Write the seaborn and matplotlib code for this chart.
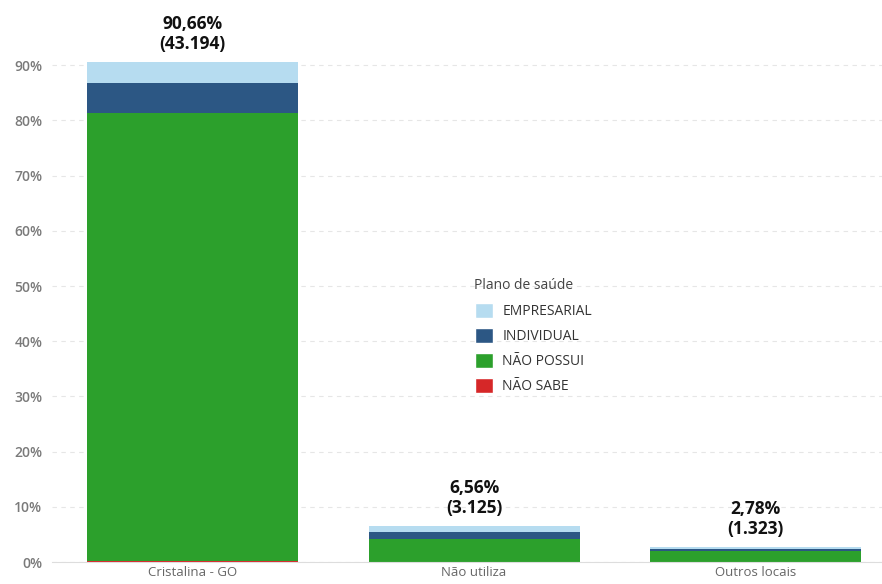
import numpy as np
import pandas as pd
import seaborn as sns
import matplotlib.pyplot as plt
from matplotlib.patches import Patch

# dados (% do total)
locais = ['Cristalina - GO', 'Não utiliza', 'Outros locais']
planos = ['EMPRESARIAL', 'INDIVIDUAL', 'NÃO POSSUI', 'NÃO SABE']
nao_sabe = [0.20, 0.05, 0.03]
nao_possui = [81.10, 4.10, 2.00]
individual = [5.50, 1.30, 0.25]
empresarial = [3.86, 1.11, 0.50]
totais_pct = ['90,66%', '6,56%', '2,78%']
totais_n = ['43.194', '3.125', '1.323']

cores = {'EMPRESARIAL': '#b6dcf0', 'INDIVIDUAL': '#2c5784',
         'NÃO POSSUI': '#2ca02c', 'NÃO SABE': '#d62728'}

sns.set_style('white')
plt.rcParams['font.family'] = ['Open Sans', 'DejaVu Sans']

fig = plt.figure(figsize=(8.82, 5.84), dpi=100)
ax = fig.add_axes([52 / 882, 22 / 584, 1 - 52 / 882, 552 / 584])

# empilhar de baixo para cima
camadas = [('NÃO SABE', nao_sabe), ('NÃO POSSUI', nao_possui),
           ('INDIVIDUAL', individual), ('EMPRESARIAL', empresarial)]
base = np.zeros(len(locais))
for nome, vals in camadas:
    df = pd.DataFrame({'local': locais, 'valor': vals})
    sns.barplot(data=df, x='local', y='valor', bottom=base, color=cores[nome],
                width=0.75, saturation=1, ax=ax, linewidth=0)
    base = base + np.array(vals)

for i in range(len(locais)):
    ax.annotate(totais_pct[i] + '\n(' + totais_n[i] + ')', (i, base[i]),
                xytext=(0, 6), textcoords='offset points', ha='center', va='bottom',
                fontsize=12.5, fontweight='bold', color='#111111', linespacing=1.15)

ax.set_ylim(0, 100)
ax.set_xlim(-0.5, 2.45)
ax.set_yticks(range(0, 100, 10))
ax.set_yticklabels([f'{v}%' for v in range(0, 100, 10)], fontsize=10,
                   fontweight='semibold', color='#7a7a7a')
ax.tick_params(axis='x', labelsize=9.5, colors='#666666', length=0, pad=3)
ax.tick_params(axis='y', length=0, pad=7)
ax.set_xticks([0.5, 1.5], minor=True)
ax.tick_params(axis='x', which='minor', length=4, color='#e0e0e0')
ax.set_xlabel('')
ax.set_ylabel('')
ax.grid(axis='y', linestyle=(0, (4, 4)), color='#e6e6e6', linewidth=0.8)
ax.set_axisbelow(True)
for s in ['top', 'right', 'left']:
    ax.spines[s].set_visible(False)
ax.spines['bottom'].set_color('#dddddd')
ax.spines['bottom'].set_linewidth(0.8)

handles = [Patch(facecolor=cores[p], label=p) for p in planos]
leg = fig.legend(handles=handles, title='Plano de saúde', loc='upper left',
                 bbox_to_anchor=(462 / 882, 1 - 266 / 584), frameon=False,
                 fontsize=10, title_fontsize=10, handlelength=1.3, handleheight=1.3,
                 handletextpad=0.7, labelspacing=0.65, alignment='left')
for t in leg.get_texts():
    t.set_color('#333333')
leg.get_title().set_color('#444444')

fig.savefig('out.png', dpi=100)
